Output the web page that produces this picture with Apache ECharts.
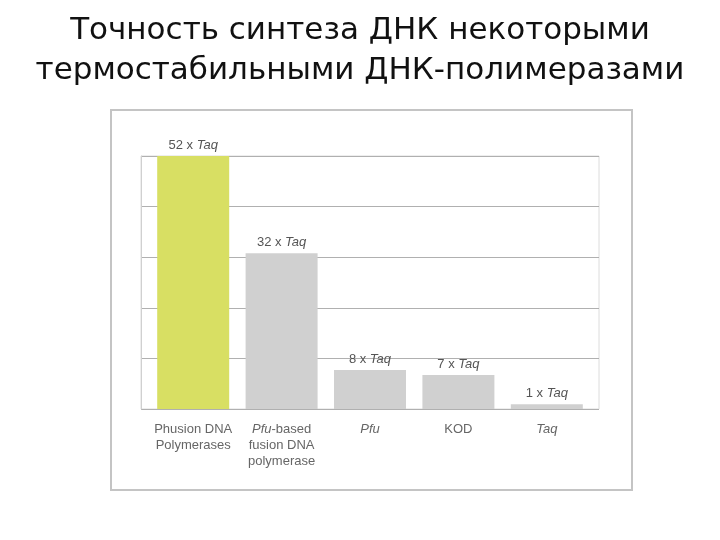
<!DOCTYPE html>
<html>
<head>
<meta charset="utf-8">
<script src="https://cdn.jsdelivr.net/npm/echarts@6/dist/echarts.min.js"></script>
<style>
  html, body { margin: 0; padding: 0; background: #fff; }
  #chart { width: 720px; height: 540px; }
</style>
</head>
<body>
<div id="chart"></div>
<script>
// данные
const categories = ['Phusion DNA\nPolymerases', 'Pfu-based\nfusion DNA\npolymerase', 'Pfu', 'KOD', 'Taq']
const fidelity = [52, 32, 8, 7, 1]
const barColors = ['#d8df63', '#d0d0d0', '#d0d0d0', '#d0d0d0', '#d0d0d0']

const labelFont = '"Liberation Sans Narrow", "Liberation Sans", sans-serif'

const chart = echarts.init(document.getElementById('chart'))

const option = {
  animation: false,
  title: {
    text: 'Точность синтеза ДНК некоторыми\nтермостабильными ДНК-полимеразами',
    left: 'center',
    top: 6,
    textStyle: {
      fontFamily: '"DejaVu Sans", sans-serif',
      fontWeight: 'normal',
      fontSize: 31,
      lineHeight: 40,
      color: '#111'
    }
  },
  graphic: [
    {
      type: 'rect',
      shape: { x: 111, y: 110, width: 521, height: 380 },
      style: { fill: 'none', stroke: '#c4c4c4', lineWidth: 2 },
      z: -1
    }
  ],
  grid: [
    // фон: линии сетки
    { left: 141, right: 121, top: 156, bottom: 131, show: true, borderColor: '#dcdcdc', borderWidth: 1 },
    // столбцы
    { left: 149, right: 129, top: 156, bottom: 131 }
  ],
  xAxis: [
    { gridIndex: 0, type: 'value', show: false },
    {
      gridIndex: 1,
      type: 'category',
      data: categories,
      axisLine: { show: false },
      axisTick: { show: false },
      axisLabel: {
        interval: 0,
        margin: 12,
        fontFamily: labelFont,
        fontSize: 13,
        lineHeight: 16,
        color: '#666',
        formatter: v => v.replace(/(Pfu|Taq)/g, '{i|$1}'),
        rich: {
          i: { fontStyle: 'italic', fontFamily: labelFont, fontSize: 13, lineHeight: 16, color: '#666' }
        }
      }
    }
  ],
  yAxis: [
    {
      gridIndex: 0,
      type: 'value',
      min: 0,
      max: 52,
      interval: 10.4,
      axisLabel: { show: false },
      axisTick: { show: false },
      axisLine: { show: true, lineStyle: { color: '#d0d0d0' } },
      splitLine: { lineStyle: { color: '#b0b0b0', width: 1 } }
    },
    {
      gridIndex: 1,
      type: 'value',
      min: 0,
      max: 52,
      show: false
    }
  ],
  series: [
    {
      type: 'bar',
      xAxisIndex: 1,
      yAxisIndex: 1,
      barWidth: 72,
      data: fidelity.map((v, i) => ({ value: v, itemStyle: { color: barColors[i] } })),
      label: {
        show: true,
        position: 'top',
        distance: 4,
        fontFamily: labelFont,
        fontSize: 13,
        color: '#555',
        formatter: p => p.value + ' x {i|Taq}',
        rich: {
          i: { fontStyle: 'italic', fontFamily: labelFont, fontSize: 13, color: '#555' }
        }
      }
    }
  ]
}

chart.setOption(option)
</script>
</body>
</html>
